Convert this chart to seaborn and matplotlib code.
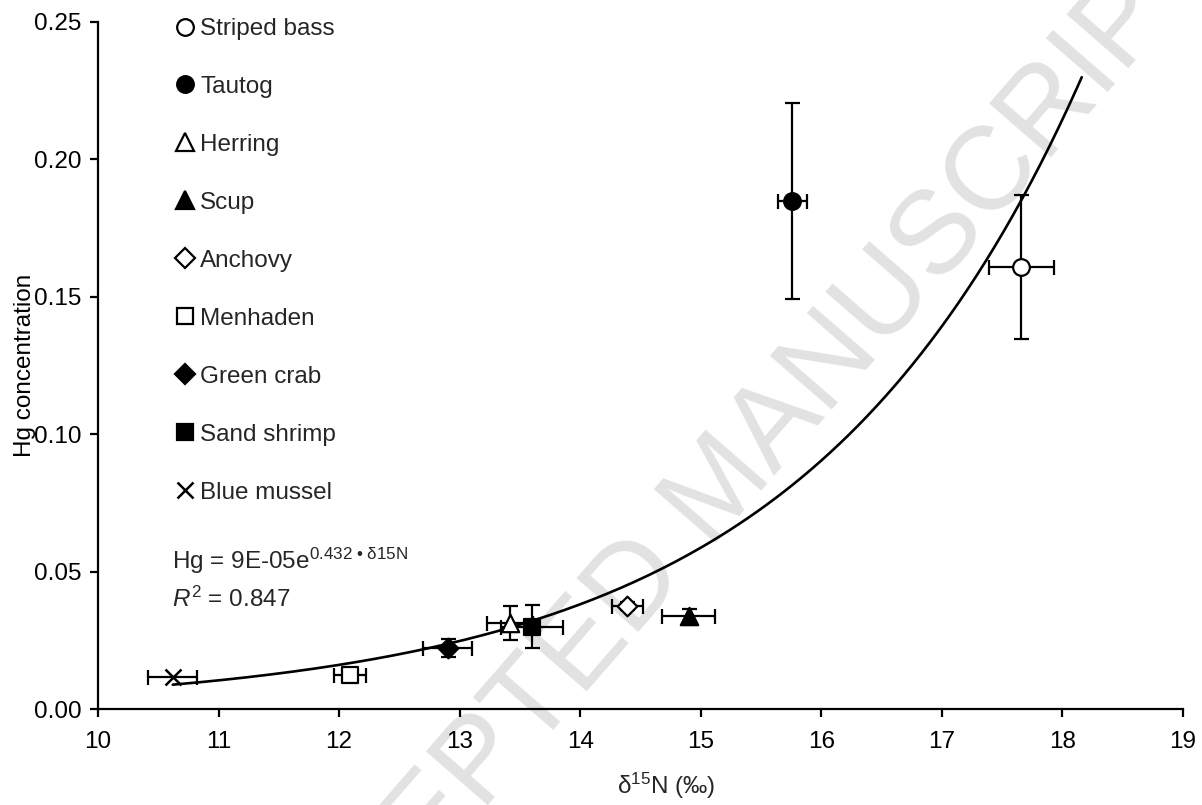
import numpy as np
import pandas as pd
import seaborn as sns
import matplotlib.pyplot as plt
from matplotlib.lines import Line2D
from matplotlib.ticker import FormatStrFormatter

# data
species = ["Striped bass", "Tautog", "Herring", "Scup", "Anchovy",
           "Menhaden", "Green crab", "Sand shrimp", "Blue mussel"]
d15n = [17.66, 15.76, 13.42, 14.90, 14.39, 12.09, 12.90, 13.60, 10.62]
hg = [0.1607, 0.1847, 0.0313, 0.0338, 0.0375, 0.0124, 0.0222, 0.0300, 0.0117]
d15n_err = [0.27, 0.12, 0.19, 0.22, 0.13, 0.13, 0.20, 0.255, 0.205]
hg_err = [0.0262, 0.0357, 0.0062, 0.0025, 0.0015, 0.0010, 0.0033, 0.0077, 0.0]

# trendline as given on the chart
fit_a = 9e-05
fit_b = 0.432
fit_forward = 0.5

markers = {"Striped bass": ("o", "white"), "Tautog": ("o", "black"),
           "Herring": ("^", "white"), "Scup": ("^", "black"),
           "Anchovy": ("D", "white"), "Menhaden": ("s", "white"),
           "Green crab": ("D", "black"), "Sand shrimp": ("s", "black"),
           "Blue mussel": ("x", "black")}
msize = {"o": 12, "^": 12.5, "D": 10, "s": 12, "x": 11.5}

df = pd.DataFrame({"species": species, "d15n": d15n, "hg": hg,
                   "xerr": d15n_err, "yerr": hg_err})

sns.set_theme(style="ticks")
plt.rcParams["font.family"] = ["Liberation Sans", "DejaVu Sans"]
plt.rcParams["mathtext.fontset"] = "custom"
plt.rcParams["mathtext.rm"] = "Liberation Sans"
plt.rcParams["mathtext.it"] = "Liberation Sans:italic"
plt.rcParams["mathtext.default"] = "regular"

fs = 17.5
fig = plt.figure(figsize=(12.02, 8.05), dpi=100)
ax = fig.add_axes([98 / 1202, 1 - 709 / 805, 1085 / 1202, (709 - 21.7) / 805])

# watermark
ax.text(722 / 1202, 1 - 490 / 805, "ACCEPTED MANUSCRIPT", transform=fig.transFigure,
        rotation=49, rotation_mode="anchor", ha="center", va="center",
        fontsize=85, color="#e2e2e2", zorder=0.5)

# trendline
xs = np.linspace(df["d15n"].min(), df["d15n"].max() + fit_forward, 200)
trend = pd.DataFrame({"x": xs, "y": fit_a * np.exp(fit_b * xs)})
sns.lineplot(data=trend, x="x", y="y", color="black", lw=1.9, ax=ax, zorder=2)

# error bars + markers
for _, r in df.iterrows():
    ax.errorbar(r["d15n"], r["hg"], xerr=r["xerr"], yerr=r["yerr"] if r["yerr"] > 0 else None,
                fmt="none", ecolor="black", elinewidth=1.6, capsize=5.4, capthick=1.6, zorder=3)
for sp in species:
    m, fc = markers[sp]
    sub = df[df["species"] == sp]
    if m == "x":
        sns.scatterplot(data=sub, x="d15n", y="hg", marker="x", s=msize[m] ** 2,
                        color="black", linewidth=1.8, ax=ax, zorder=4)
    else:
        sns.scatterplot(data=sub, x="d15n", y="hg", marker=m, s=msize[m] ** 2,
                        facecolor=fc, edgecolor="black", linewidth=1.6, ax=ax, zorder=4)

ax.set_xlim(10, 19)
ax.set_ylim(0, 0.25)
ax.set_xticks(range(10, 20))
ax.set_yticks(np.arange(0, 0.2501, 0.05))
ax.yaxis.set_major_formatter(FormatStrFormatter("%.2f"))
sns.despine(ax=ax)
for s in ["left", "bottom"]:
    ax.spines[s].set_linewidth(1.6)
    ax.spines[s].set_color("black")
ax.tick_params(axis="both", labelsize=fs, colors="black", width=1.6, length=6,
               direction="out")
ax.tick_params(axis="x", pad=10)
ax.tick_params(axis="y", pad=6)
ax.set_xlabel("")
ax.set_ylabel("Hg concentration", fontsize=fs, color="black")
ax.yaxis.set_label_coords(-0.057, 0.5)
fig.text(666 / 1202, 1 - 794 / 805, r"δ$^{15}$N (‰)", fontsize=fs,
         ha="center", va="baseline")

# legend
handles = []
for sp in species:
    m, fc = markers[sp]
    handles.append(Line2D([], [], marker=m, linestyle="none", markersize=msize[m],
                          markerfacecolor=fc, markeredgecolor="black",
                          markeredgewidth=1.6 if m != "x" else 1.8, label=sp))
ax.legend(handles=handles, loc="upper left", bbox_to_anchor=(173 / 1202, 1 - 18 / 805),
          bbox_transform=fig.transFigure, frameon=False, fontsize=fs,
          handlelength=1.0, handletextpad=0.12, labelspacing=1.48,
          borderpad=0, borderaxespad=0)

# equation
fig.text(172 / 1202, 1 - 569 / 805, r"Hg = 9E-05e$^{0.432\ •\ δ15N}$",
         fontsize=fs, ha="left", va="baseline")
fig.text(172 / 1202, 1 - 607 / 805, r"$\mathit{R}^{2}$ = 0.847",
         fontsize=fs, ha="left", va="baseline")

fig.savefig("out.png", dpi=100)
